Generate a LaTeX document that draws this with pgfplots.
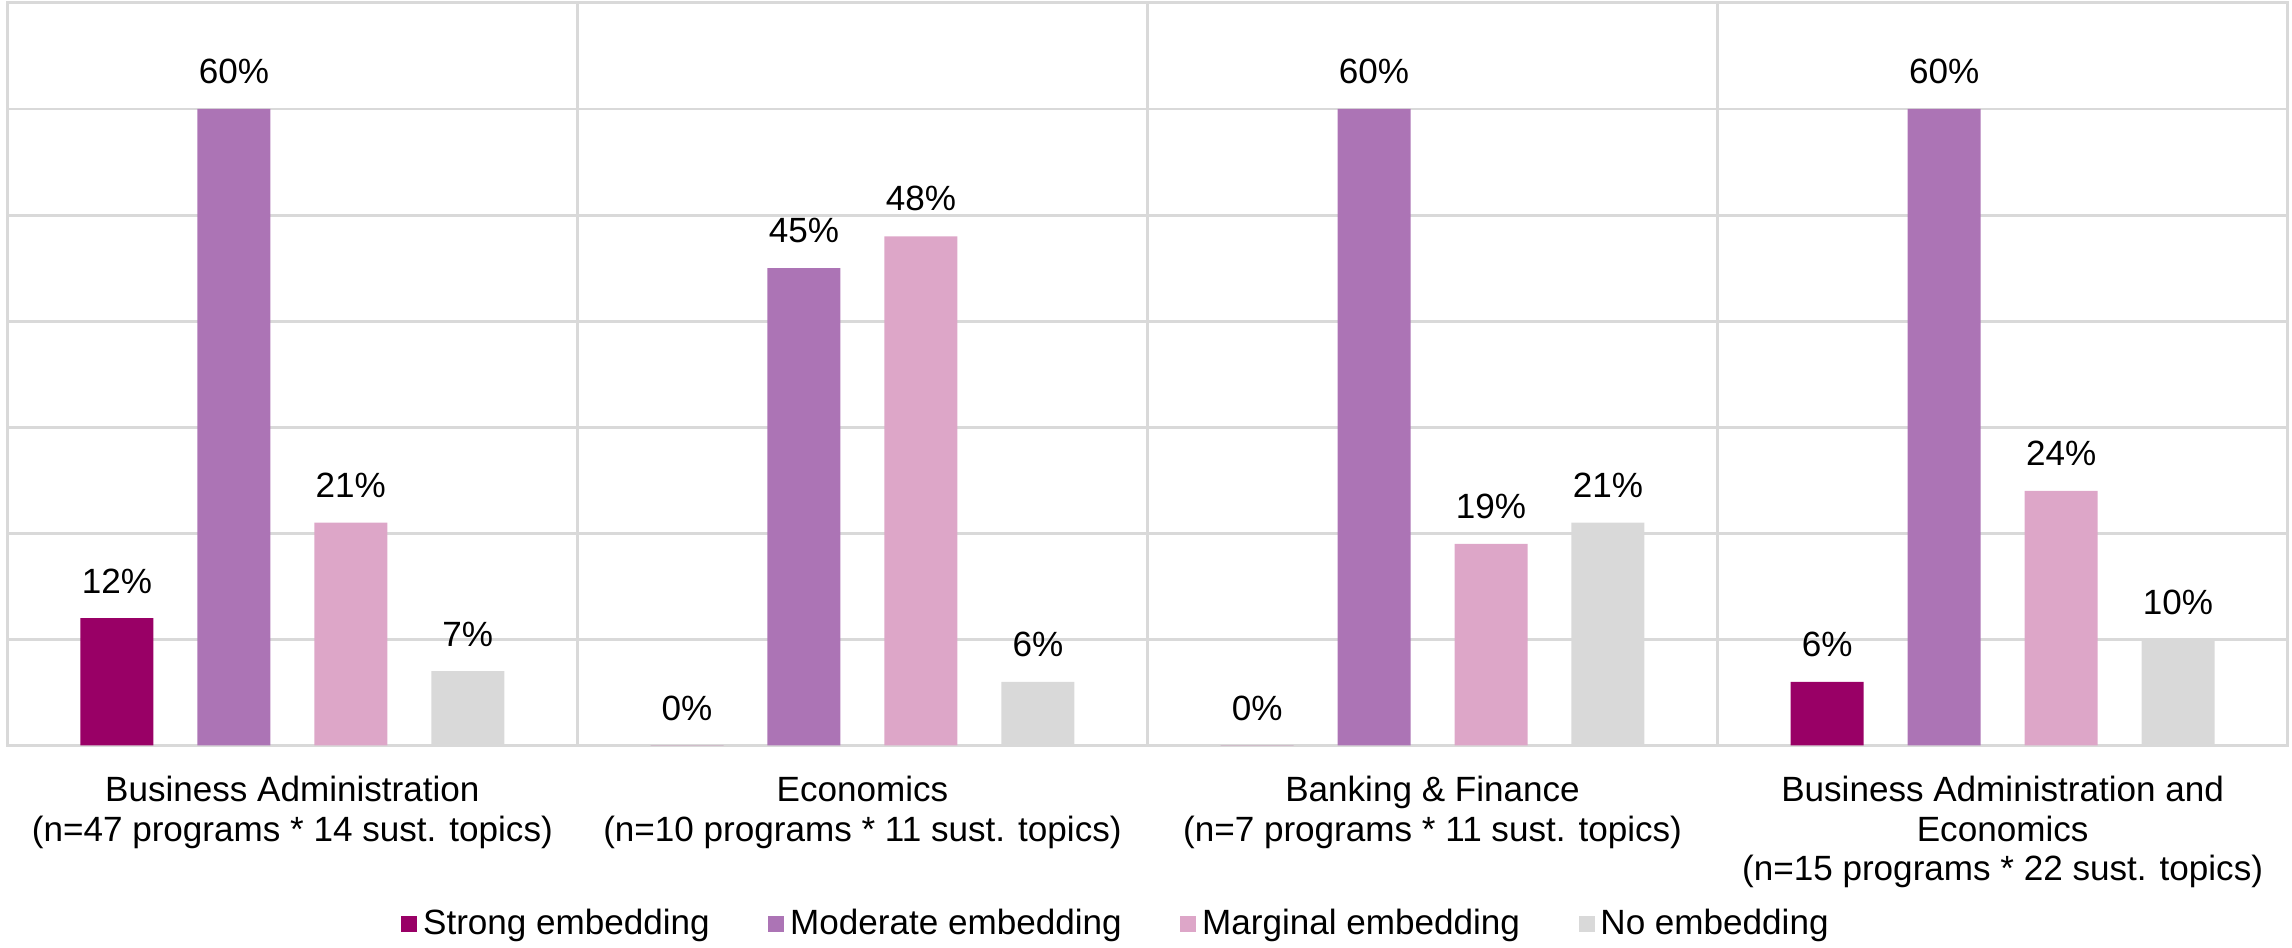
\documentclass[border=0pt]{standalone}
\usepackage{pgfplots}
\pgfplotsset{compat=1.18}
\usepackage{fontspec}
\setmainfont{Liberation Sans}
\definecolor{cStrong}{HTML}{990066}
\definecolor{cModerate}{HTML}{AC74B5}
\definecolor{cMarginal}{HTML}{DDA6C8}
\definecolor{cNo}{HTML}{D9D9D9}
\definecolor{gridgray}{HTML}{D9D9D9}
\begin{document}
\begin{tikzpicture}
\begin{axis}[
  width=780pt, height=254pt, scale only axis,
  xmin=0, xmax=4, ymin=0, ymax=70,
  clip=false,
  /pgf/number format/assume math mode=true,
  axis line style={draw=gridgray, line width=1pt},
  ytick={0,10,...,70}, yticklabels={}, yticklabel style={inner sep=0pt},
  ymajorgrids,
  xtick={0.5,1.5,2.5,3.5},
  xticklabels={{Business Administration\\(n=47 programs * 14 sust. topics)},
               {Economics\\(n=10 programs * 11 sust. topics)},
               {Banking \& Finance\\(n=7 programs * 11 sust. topics)},
               {Business Administration and\\Economics\\(n=15 programs * 22 sust. topics)}},
  minor xtick={1,2,3}, xminorgrids,
  major tick length=0pt, minor tick length=0pt,
  grid style={draw=gridgray, line width=1pt},
  minor grid style={draw=gridgray, line width=1pt},
  xticklabel style={align=center, font=\fontsize{12}{13.5}\selectfont, yshift=-7pt},
  nodes near coords={\pgfmathprintnumber[fixed,precision=0,assume math mode=true]{\pgfplotspointmeta}\%},
  every node near coord/.append style={font=\fontsize{12}{13.5}\selectfont, text=black, yshift=5pt},
  legend style={at={(0.487,-0.2402)}, anchor=center, draw=none, fill=none, inner sep=0pt,
    legend columns=-1, font=\fontsize{12}{13.5}\selectfont,
    /tikz/every even column/.append style={column sep=18pt}},
  legend image code/.code={\fill[#1] (0pt,-2.75pt) rectangle (5.5pt,2.75pt);},
]
\addplot[ybar, bar width=0.128, bar shift=0pt, fill=cStrong, draw=none]
  coordinates {(0.1923,12) (1.1923,0) (2.1923,0) (3.1923,6)};
\addlegendentry{Strong embedding}
\addplot[ybar, bar width=0.128, bar shift=0pt, fill=cModerate, draw=none]
  coordinates {(0.3974,60) (1.3974,45) (2.3974,60) (3.3974,60)};
\addlegendentry{Moderate embedding}
\addplot[ybar, bar width=0.128, bar shift=0pt, fill=cMarginal, draw=none]
  coordinates {(0.6026,21) (1.6026,48) (2.6026,19) (3.6026,24)};
\addlegendentry{Marginal embedding}
\addplot[ybar, bar width=0.128, bar shift=0pt, fill=cNo, draw=none]
  coordinates {(0.8077,7) (1.8077,6) (2.8077,21) (3.8077,10)};
\addlegendentry{No embedding}
\path (rel axis cs:-0.0032,-0.2717) (rel axis cs:1.0019,1.0039);
\end{axis}
\end{tikzpicture}
\end{document}
